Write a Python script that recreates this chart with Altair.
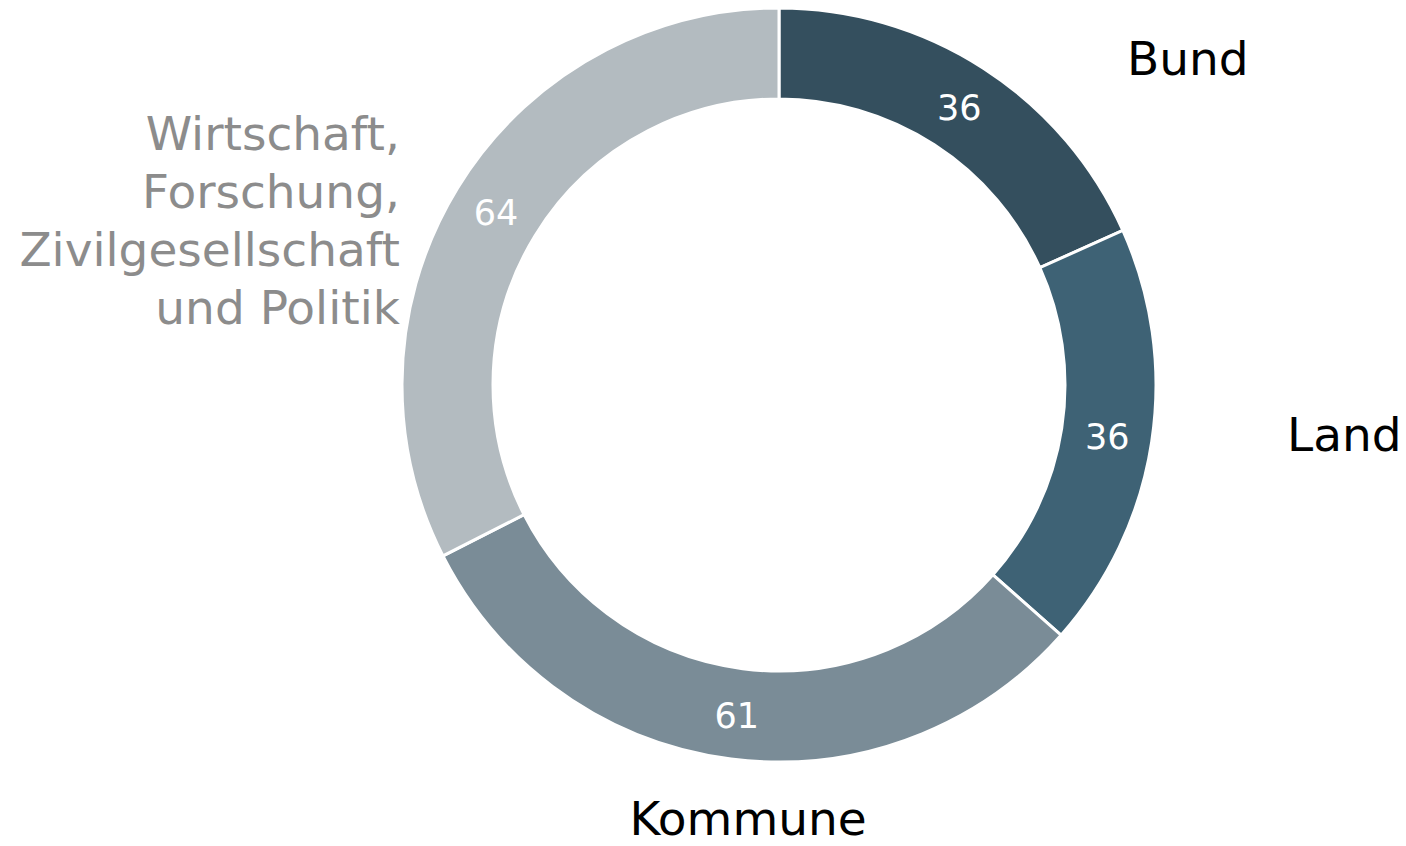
import altair as alt
import pandas as pd

categories = ["Bund", "Land", "Kommune", "Wirtschaft, Forschung, Zivilgesellschaft und Politik"]
values = [36, 36, 61, 64]
label_lines = [["Bund"], ["Land"], ["Kommune"], ["Wirtschaft, ", "Forschung,", "Zivilgesellschaft", "und Politik"]]
colors = ["#344f5e", "#3e6275", "#7a8c97", "#b3bbc0"]
label_colors = ["#000000", "#000000", "#000000", "#8c8c8c"]

df = pd.DataFrame({
    "cat": categories,
    "value": values,
    "order": list(range(len(categories))),
    "lbl": label_lines,
})
total = sum(values)

CX, CY = 771, 377
FONT = "DejaVu Sans"
theta_scale = alt.Scale(domain=[0, total])

base = alt.Chart(df).encode(
    theta=alt.Theta("value:Q", stack=True, scale=theta_scale),
    order=alt.Order("order:Q"),
)

arcs = base.mark_arc(
    x=CX, y=CY, outerRadius=377, innerRadius=286,
    stroke="white", strokeWidth=3
).encode(
    color=alt.Color("cat:N", scale=alt.Scale(domain=categories, range=colors), legend=None)
)

nums = base.mark_text(
    x=CX, y=CY, radius=332, font=FONT, fontSize=35, color="white",
    baseline="middle", align="center", dy=3
).encode(text="value:Q")

lab_base = alt.Chart(df).transform_window(
    cum="sum(value)", sort=[alt.SortField("order")]
).transform_calculate(
    mid="datum.cum - datum.value / 2"
)

# per-label placement offsets (align, dx, dy)
placements = [("left", 109, 45), ("left", 73, -14), ("center", 25, 0), ("right", -4, -19)]
labels = []
for cat, col, (al, dx, dy) in zip(categories, label_colors, placements):
    labels.append(
        lab_base.transform_filter(alt.datum.cat == cat).mark_text(
            x=CX, y=CY, radius=440, font=FONT, fontSize=47, color=col,
            align=al, baseline="middle", dx=dx, dy=dy, lineHeight=58
        ).encode(
            theta=alt.Theta("mid:Q", scale=theta_scale),
            text="lbl",
        )
    )

chart = alt.layer(arcs, nums, *labels).properties(
    width=1390, height=830, padding=0,
    autosize=alt.AutoSizeParams(type="none"),
).configure_view(stroke=None)

chart.save("out.html", embed_options={"renderer": "svg", "actions": False})
